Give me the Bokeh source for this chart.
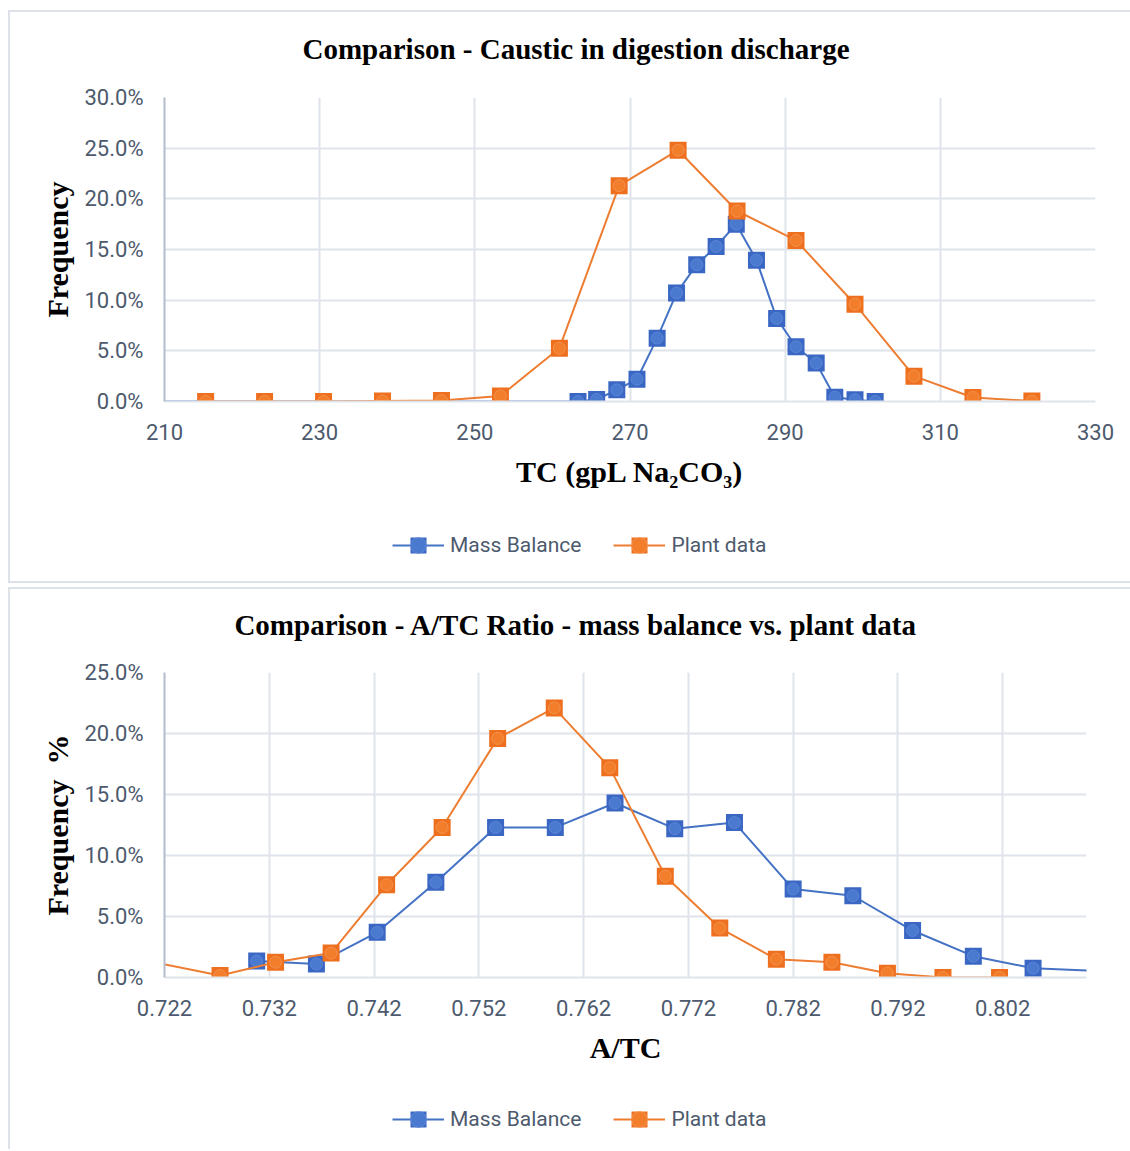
from bokeh.plotting import figure
from bokeh.models import (Range1d, FixedTicker, NumeralTickFormatter, Label,
                          Legend, LegendItem, ColumnDataSource)
from bokeh.embed import file_html
from bokeh.resources import INLINE

# ---- Chart 1: caustic (TC, gpL Na2CO3) in digestion discharge ----
tc_mass_x = [200.0, 263.3, 265.7, 268.3, 270.9, 273.5, 276.0, 278.6, 281.1,
             283.7, 286.3, 288.9, 291.4, 294.0, 296.4, 299.0, 301.6]
tc_mass_y = [0.0, 0.000, 0.002, 0.0115, 0.022, 0.0625, 0.107, 0.135, 0.153,
             0.175, 0.1395, 0.082, 0.054, 0.038, 0.0042, 0.0017, 0.0]
tc_plant_x = [215.3, 222.9, 230.5, 238.1, 245.7, 253.3, 260.9, 268.6, 276.2,
              283.8, 291.4, 299.0, 306.6, 314.2, 321.8]
tc_plant_y = [0.0, 0.0, 0.0, 0.0005, 0.001, 0.0055, 0.0526, 0.213, 0.248,
              0.188, 0.159, 0.096, 0.025, 0.004, 0.0005]
tc_ticks = [210, 230, 250, 270, 290, 310, 330]
tc_freq_ticks = [0.0, 0.05, 0.10, 0.15, 0.20, 0.25, 0.30]

# ---- Chart 2: A/TC ratio ----
atc_mass_x = [0.7308, 0.7365, 0.7423, 0.7479, 0.7536, 0.7593, 0.7650, 0.7707,
              0.7764, 0.7820, 0.7877, 0.7934, 0.7992, 0.8049, 0.8106]
atc_mass_y = [0.0135, 0.011, 0.037, 0.078, 0.123, 0.123, 0.143, 0.122,
              0.127, 0.0725, 0.067, 0.0385, 0.0175, 0.0076, 0.0055]
atc_plant_x = [0.7219, 0.7273, 0.7326, 0.7379, 0.7432, 0.7485, 0.7538, 0.7592,
               0.7645, 0.7698, 0.7750, 0.7804, 0.7857, 0.7910, 0.7963, 0.8017]
atc_plant_y = [0.011, 0.0016, 0.0125, 0.020, 0.076, 0.123, 0.196, 0.221,
               0.172, 0.083, 0.0405, 0.015, 0.0125, 0.0035, 0.0, 0.0]
atc_ticks = [0.722, 0.732, 0.742, 0.752, 0.762, 0.772, 0.782, 0.792, 0.802]
atc_freq_ticks = [0.0, 0.05, 0.10, 0.15, 0.20, 0.25]

SERIES_NAMES = ["Mass Balance", "Plant data"]
# line colour, marker square, marker dot, dot rim
SERIES_STYLE = [
    ("#4472c4", "#3a67c4", "#4a79d0", "#6d93da"),
    ("#ed7d31", "#ee701f", "#f27e2c", "#f6a266"),
]
GRID = "#dfe3ea"
TICK_TXT = "#4d5a6d"
BOX = "2px solid #dde1e8"
WIDTH = 1122


def strip(height, styles, margin):
    """A plain panel (no axes) used for a chart's heading or its legend."""
    s = figure(width=WIDTH, height=height, output_backend="svg",
               toolbar_location=None, x_axis_type=None, y_axis_type=None,
               x_range=Range1d(0, 1), y_range=Range1d(0, 1), min_border=0)
    s.outline_line_color = None
    s.background_fill_color = "white"
    s.border_fill_color = "white"
    s.styles = styles
    s.margin = margin
    return s


def heading(text, height, styles, margin, cy):
    s = strip(height, styles, margin)
    s.add_layout(Label(x=565.5, y=cy, x_units="screen", y_units="screen",
                       text=text, text_align="center", text_baseline="middle",
                       text_font="Liberation Serif", text_font_style="bold",
                       text_font_size="29px", text_color="black"))
    return s


def legend_strip(height, styles, margin, y):
    s = strip(height, styles, margin)
    # legend keys: one point each, placed outside the panel's visible range
    key = ColumnDataSource(dict(x=[5], y=[5]))
    items = []
    for name, (line_c, sq_c, dot_c, dot_edge) in zip(SERIES_NAMES, SERIES_STYLE):
        ln = s.line("x", "y", source=key, line_color=line_c, line_width=2)
        sq = s.scatter("x", "y", source=key, marker="square", size=17,
                       fill_color=sq_c, line_color=None)
        dot = s.scatter("x", "y", source=key, marker="circle", size=12,
                        fill_color=dot_c, line_color=dot_edge, line_alpha=0.6)
        items.append(LegendItem(label=name, renderers=[ln, sq, dot]))
    s.add_layout(Legend(items=items, orientation="horizontal", location=(382, y),
                        glyph_width=52, glyph_height=40, label_standoff=6,
                        spacing=32, padding=0, margin=0,
                        border_line_color=None, background_fill_alpha=0,
                        label_text_font="Roboto", label_text_font_size="21px",
                        label_text_color=TICK_TXT), "center")
    return s


def chart(xlab, ylab, xr, yr, xticks, yticks, xfmt, series, height,
          border_top, border_bottom, border_right, styles, margin):
    p = figure(width=WIDTH, height=height, output_backend="svg",
               toolbar_location=None, x_range=Range1d(*xr), y_range=Range1d(*yr),
               min_border_left=154, min_border_right=border_right,
               min_border_top=border_top, min_border_bottom=border_bottom)
    p.outline_line_color = None
    p.background_fill_color = "white"
    p.border_fill_color = "white"
    p.styles = styles
    p.margin = margin

    for ax in (p.xaxis[0], p.yaxis[0]):
        ax.major_tick_out = 0
        ax.major_tick_in = 0
        ax.minor_tick_out = 0
        ax.minor_tick_in = 0
        ax.major_label_text_font = "Roboto"
        ax.major_label_text_font_size = "22px"
        ax.major_label_text_color = TICK_TXT
        ax.axis_label_text_font = "Liberation Serif"
        ax.axis_label_text_font_style = "bold"
        ax.axis_label_text_font_size = "30px"
        ax.axis_label_text_color = "black"

    p.xaxis.ticker = FixedTicker(ticks=xticks)
    p.yaxis.ticker = FixedTicker(ticks=yticks)
    p.xaxis.formatter = NumeralTickFormatter(format=xfmt)
    p.yaxis.formatter = NumeralTickFormatter(format="0.0%")
    p.xaxis.axis_label = xlab
    p.yaxis.axis_label = ylab
    p.xaxis.major_label_standoff = 22
    p.yaxis.major_label_standoff = 21
    p.xaxis.axis_label_standoff = 12
    p.yaxis.axis_label_standoff = 7
    p.xaxis.axis_line_color = GRID
    p.xaxis.axis_line_width = 2
    p.yaxis.axis_line_color = "#b3bccb"
    p.yaxis.axis_line_width = 2

    p.xgrid.ticker = FixedTicker(ticks=xticks)
    p.ygrid.ticker = FixedTicker(ticks=yticks)
    p.grid.grid_line_color = GRID
    p.grid.grid_line_width = 2

    for (line_c, sq_c, dot_c, dot_edge), (xs, ys) in zip(SERIES_STYLE, series):
        p.line(xs, ys, line_color=line_c, line_width=2)
        # markers only for points that fall inside the x range
        mx = [x for x in xs if xr[0] <= x <= xr[1]]
        my = [y for x, y in zip(xs, ys) if xr[0] <= x <= xr[1]]
        src = ColumnDataSource(dict(x=mx, y=my))
        p.scatter("x", "y", source=src, marker="square", size=17,
                  fill_color=sq_c, line_color=None)
        p.scatter("x", "y", source=src, marker="circle", size=12,
                  fill_color=dot_c, line_color=dot_edge, line_width=1,
                  line_alpha=0.6)
    return p


LEFT = {"border-left": BOX}

h1 = heading("Comparison - Caustic in digestion discharge", 60,
             {"border-top": BOX, "border-left": BOX}, (10, 0, 0, 8), 24)
p1 = chart("TC (gpL Na\u2082CO\u2083)", "Frequency",
           (210, 330), (0, 0.30), tc_ticks, tc_freq_ticks, "0",
           [(tc_mass_x, tc_mass_y), (tc_plant_x, tc_plant_y)],
           height=432, border_top=27, border_bottom=101, border_right=37,
           styles=LEFT, margin=(0, 0, 0, 8))
l1 = legend_strip(81, {"border-left": BOX, "border-bottom": BOX},
                  (0, 0, 0, 8), 18)

h2 = heading("Comparison - A/TC Ratio - mass balance vs. plant data", 58,
             {"border-top": BOX, "border-left": BOX}, (4, 0, 0, 8), 23)
p2 = chart("A/TC", "Frequency\u00a0 %",
           (0.722, 0.810), (0, 0.25), atc_ticks, atc_freq_ticks, "0.000",
           [(atc_mass_x, atc_mass_y), (atc_plant_x, atc_plant_y)],
           height=430, border_top=27, border_bottom=98, border_right=46,
           styles=LEFT, margin=(0, 0, 0, 8))
l2 = legend_strip(74, LEFT, (0, 0, 0, 8), 10)

open("out.html", "w").write(file_html([h1, p1, l1, h2, p2, l2], INLINE))
